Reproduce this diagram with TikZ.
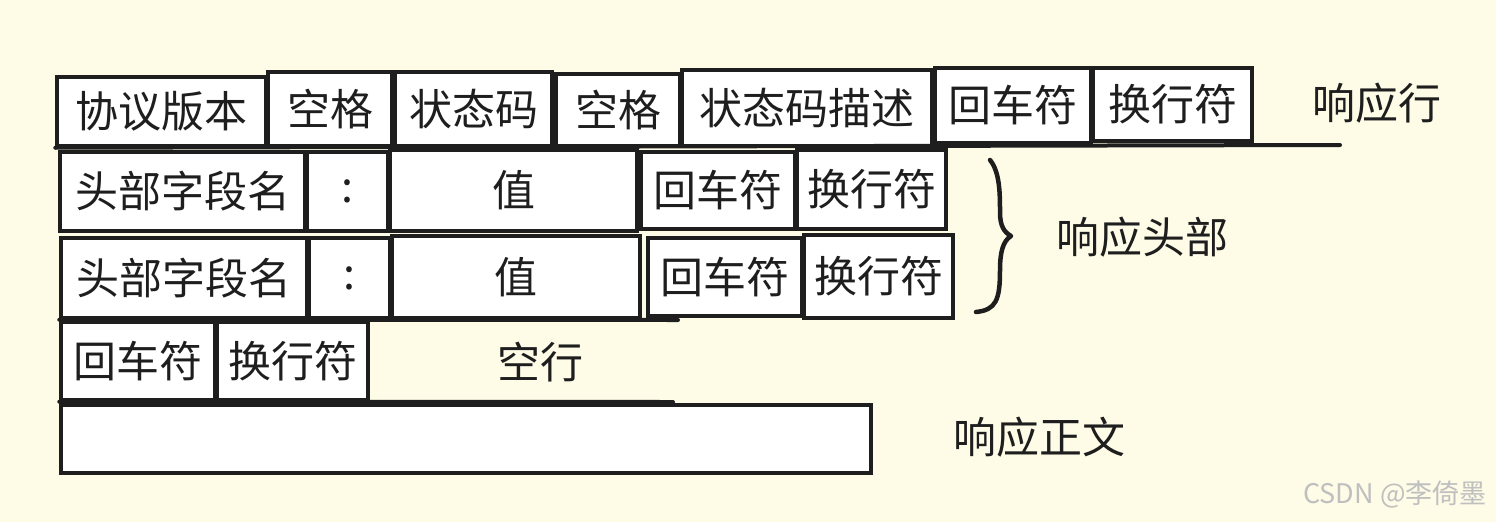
\documentclass[tikz,border=0pt]{standalone}
\usepackage{fontspec}
\setmainfont{Noto Sans CJK SC}
\definecolor{paper}{RGB}{254,251,231}
\definecolor{ink}{RGB}{30,30,30}
\begin{document}
\begin{tikzpicture}[x=1pt,y=-1pt,
  cell/.style={draw=ink,fill=white,line width=3.5pt,inner sep=0pt,
    font=\fontsize{43}{48}\selectfont,text=ink},
  lbl/.style={inner sep=0pt,font=\fontsize{43}{48}\selectfont,text=ink},
  rule/.style={draw=ink,line width=4pt,line cap=round},
  wmark/.style={inner sep=0pt,font=\fontsize{27}{30}\selectfont,text=black!25}]
\newcommand\cellbox[6]{\node[cell,minimum width={(#4-#2)*1pt},minimum height={(#5-#3)*1pt}] (#1) at ({(#2+#4)/2},{(#3+#5)/2}) {#6};}
\fill[paper] (0,0) rectangle (1496,522);
\useasboundingbox (0,0) rectangle (1496,522);
% row 1
\cellbox{a1}{57}{77}{266}{146}{协议版本}
\cellbox{a2}{268}{72}{392}{146}{空格}
\cellbox{a3}{395}{72}{552}{146}{状态码}
\cellbox{a4}{556}{74}{680}{146}{空格}
\cellbox{a5}{682}{70}{932}{146}{状态码描述}
\cellbox{a6}{935}{68}{1091}{143}{回车符}
\cellbox{a7}{1093}{68}{1252}{141}{换行符}
\coordinate (a8) at (1340,145);
\draw[rule] (a1.south west) -- (a8);
\node[lbl] (l1) at (1377,103) {响应行};
% row 2
\cellbox{b1}{60}{152}{305}{231}{头部字段名}
\cellbox{b2}{307}{152}{388}{231}{:}
\cellbox{b3}{390}{150}{637}{231}{值}
\cellbox{b4}{641}{152}{795}{229}{回车符}
\cellbox{b5}{797}{150}{946}{229}{换行符}
% row 3
\cellbox{c1}{61}{238}{307}{318}{头部字段名}
\cellbox{c2}{309}{238}{390}{318}{:}
\cellbox{c3}{392}{236}{640}{318}{值}
\cellbox{c4}{648}{238}{802}{316}{回车符}
\cellbox{c5}{804}{235}{953}{318}{换行符}
\coordinate (c6) at (678,320);
\draw[rule] (c1.south west) -- (c6);
% brace
\coordinate (h1) at (990,160);
\coordinate (h2) at (1011,236);
\coordinate (h3) at (976,312);
\draw[draw=ink,line width=4.5pt,line cap=round,line join=round]
  (h1) .. controls (1000,172) and (1000,195) .. (1000,212)
  .. controls (1000,226) and (1004,232) .. (h2)
  .. controls (1003,241) and (1000,252) .. (1000,270)
  .. controls (1000,300) and (996,310) .. (h3);
\node[lbl] (l2) at (1142,237) {响应头部};
% row 4
\cellbox{d1}{61}{322}{215}{400}{回车符}
\cellbox{d2}{217}{322}{368}{400}{换行符}
\node[lbl] (d3) at (540,362) {空行};
\coordinate (d4) at (673,402);
\draw[rule] (d1.south west) -- (d4);
% row 5
\cellbox{e1}{61}{405}{871}{473}{}
\node[lbl] (l3) at (1039,437) {响应正文};
\node[wmark] (wm) at (1395,494) {CSDN @李倚墨};
\end{tikzpicture}
\end{document}
